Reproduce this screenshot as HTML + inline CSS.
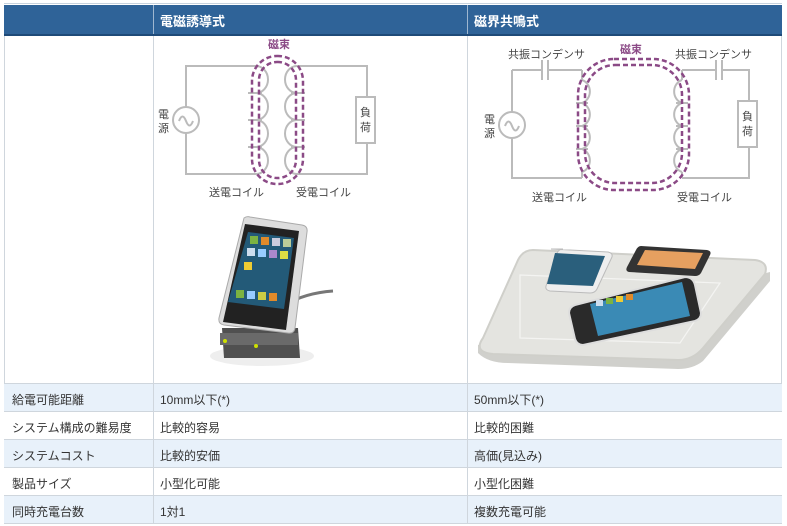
<!DOCTYPE html>
<html><head><meta charset="utf-8"><style>
body{margin:0;width:787px;height:526px;background:#fff;position:relative;overflow:hidden;font-family:"Liberation Sans","Noto Sans CJK JP",sans-serif;}
.a{position:absolute}
.row{position:absolute;left:4px;width:778px;height:27px;border-top:1px solid #cfd6dd;font-size:12px;color:#333}
.row span{position:absolute;top:7px}
</style></head><body>
<div class="a" style="left:4px;top:3px;width:778px;height:1px;background:#c8d3de"></div>
<div class="a" style="left:4px;top:5px;width:778px;height:29px;background:#2f6398;border-bottom:2px solid #1e4a78"></div>
<div class="a" style="left:153px;top:5px;width:1px;height:29px;background:#9fb7d0"></div>
<div class="a" style="left:467px;top:5px;width:1px;height:29px;background:#9fb7d0"></div>
<div class="a" style="left:160px;top:11px;color:#fff;font-weight:bold;font-size:13px">電磁誘導式</div>
<div class="a" style="left:474px;top:11px;color:#fff;font-weight:bold;font-size:13px">磁界共鳴式</div>
<div class="a" style="left:4px;top:36px;width:1px;height:486px;background:#cfd6dd"></div>
<div class="a" style="left:153px;top:36px;width:1px;height:486px;background:#cfd6dd"></div>
<div class="a" style="left:467px;top:36px;width:1px;height:486px;background:#cfd6dd"></div>
<div class="a" style="left:781px;top:36px;width:1px;height:486px;background:#cfd6dd"></div>
<svg class="a" style="left:0;top:0" width="787" height="383" font-family="Liberation Sans, Noto Sans CJK JP, sans-serif">
<g fill="none" stroke="#bbb" stroke-width="2">
<path d="M256 66h-70v108h70M297 66h70v108h-70"/>
<circle cx="186" cy="120" r="13" fill="#fff"/>
<path d="M179 121 q3.5 -9 7 0 q3.5 9 7 0"/>
<rect x="356" y="97" width="19" height="46" fill="#fff"/>
<path d="M256 66 a12 13.5 0 0 1 0 27 a12 13.5 0 0 1 0 27 a12 13.5 0 0 1 0 27 a12 13.5 0 0 1 0 27"/>
<path d="M297 66 a12 13.5 0 0 0 0 27 a12 13.5 0 0 0 0 27 a12 13.5 0 0 0 0 27 a12 13.5 0 0 0 0 27"/>
<path d="M248 93h14M248 120h14M248 147h14M291 93h14M291 120h14M291 147h14"/>
</g>
<g fill="none" stroke="#8b4a86" stroke-width="2.5" stroke-dasharray="5,3">
<rect x="252" y="56" width="51" height="128" rx="25"/>
<rect x="259" y="62" width="37" height="116" rx="18"/>
</g>
<text x="268" y="48" font-size="11" font-weight="bold" fill="#8b4a86">磁束</text>
<text x="158" y="118" font-size="11" fill="#444">電</text><text x="158" y="132" font-size="11" fill="#444">源</text>
<text x="360" y="116" font-size="11" fill="#444">負</text><text x="360" y="131" font-size="11" fill="#444">荷</text>
<text x="209" y="196" font-size="11" fill="#444">送電コイル</text>
<text x="296" y="196" font-size="11" fill="#444">受電コイル</text>

<g fill="none" stroke="#bbb" stroke-width="2">
<path d="M512 70h30M548 70h34M682 70h34M722 70h27v108h-67M512 70v108h70"/>
<path d="M542 60v20M548 60v20M716 60v20M722 60v20"/>
<circle cx="512" cy="125" r="13" fill="#fff"/>
<path d="M505 126 q3.5 -9 7 0 q3.5 9 7 0"/>
<rect x="738" y="101" width="19" height="46" fill="#fff"/>
<path d="M582 80 a11 12 0 0 1 0 23 a11 12 0 0 1 0 23 a11 12 0 0 1 0 23 a11 12 0 0 1 0 23 M582 80v-10M582 172v6"/>
<path d="M682 80 a11 12 0 0 0 0 23 a11 12 0 0 0 0 23 a11 12 0 0 0 0 23 a11 12 0 0 0 0 23 M682 80v-10M682 172v6"/>
<path d="M576 103h12M576 126h12M576 149h12M676 103h12M676 126h12M676 149h12"/>
</g>
<g fill="none" stroke="#8b4a86" stroke-width="2.5" stroke-dasharray="5,3">
<rect x="578" y="59" width="111" height="131" rx="36"/>
<rect x="585" y="65" width="97" height="118" rx="30"/>
</g>
<text x="620" y="53" font-size="11" font-weight="bold" fill="#8b4a86">磁束</text>
<text x="508" y="58" font-size="11" fill="#444">共振コンデンサ</text>
<text x="675" y="58" font-size="11" fill="#444">共振コンデンサ</text>
<text x="484" y="123" font-size="11" fill="#444">電</text><text x="484" y="137" font-size="11" fill="#444">源</text>
<text x="742" y="120" font-size="11" fill="#444">負</text><text x="742" y="135" font-size="11" fill="#444">荷</text>
<text x="532" y="201" font-size="11" fill="#444">送電コイル</text>
<text x="677" y="201" font-size="11" fill="#444">受電コイル</text>

<!-- left charger -->
<ellipse cx="262" cy="356" rx="52" ry="10" fill="#eee"/>
<path d="M285 305 q20 -12 48 -14" stroke="#777" stroke-width="3" fill="none"/>
<path d="M222 328 h76 l2 30 h-76z" fill="#505050"/>
<path d="M220 333 h78 v12 h-78z" fill="#6a6a6a"/>
<circle cx="225" cy="341" r="2" fill="#cde000"/><circle cx="256" cy="346" r="2" fill="#cde000"/>
<path d="M286 245 l12 5 l-4 82 l-12 -2z" fill="#444"/>
<path d="M244 218 q3 -2 6 -1 l52 8 q6 1 5 7 l-12 96 q-1 6 -7 5 l-64 -8 q-6 -1 -5 -7z" fill="#ddd" stroke="#aaa"/>
<path d="M245 224 l54 7 l-13 99 l-63 -8z" fill="#222"/>
<path d="M248 232 l46 6 l-10 71 l-56 -7z" fill="#235a78"/>
<rect x="250" y="236" width="8" height="8" fill="#7cb342"/><rect x="261" y="237" width="8" height="8" fill="#e08a2a"/><rect x="272" y="238" width="8" height="8" fill="#ccd"/><rect x="283" y="239" width="8" height="8" fill="#bc9"/>
<rect x="247" y="248" width="8" height="8" fill="#cde"/><rect x="258" y="249" width="8" height="8" fill="#9cf"/><rect x="269" y="250" width="8" height="8" fill="#a8c"/><rect x="280" y="251" width="8" height="8" fill="#dd4"/>
<rect x="244" y="262" width="8" height="8" fill="#ec3"/>
<rect x="236" y="290" width="8" height="8" fill="#7cb342"/><rect x="247" y="291" width="8" height="8" fill="#9cf"/><rect x="258" y="292" width="8" height="8" fill="#cc4"/><rect x="269" y="293" width="8" height="8" fill="#e08a2a"/>

<!-- right pad -->
<path d="M478 345 l0 8 q10 10 30 10 l170 6 q15 0 25 -8 l67 -80 v-9 z" fill="#d0d0cc"/>
<path d="M533 250 l222 10 q14 2 10 14 l-62 74 q-10 12 -25 12 l-185 -6 q-20 -2 -10 -16 l35 -78 q5 -10 15 -10z" fill="#e4e4e0" stroke="#cfcfca" stroke-width="2"/>
<path d="M520 275 l200 8 l-40 60 l-160 -5 z" fill="none" stroke="#f4f4f2" stroke-width="1.2"/>
<path d="M551 249 l57 3 q5 1 4 5 l-15 32 q-2 4 -7 4 l-40 -2 q-5 -1 -4 -5 l11 -33 q2 -4 6 -4z" fill="#eee" stroke="#bbb"/>
<path d="M555 253 l50 3 l-12 30 l-46 -2z" fill="#2a5f7c"/>
<path d="M641 246 l66 4 q5 1 3 5 l-9 18 q-2 3 -6 3 l-66 -4 q-4 -1 -2 -5 l9 -17 q2 -4 5 -4z" fill="#333"/>
<path d="M645 250 l58 3 l-8 16 l-58 -4z" fill="#e6a060"/>
<path d="M575 305 l110 -28 q8 0 10 8 l6 28 q0 6 -6 8 l-112 24 q-6 0 -8 -6 l-6 -26 q0 -6 6 -8z" fill="#2a2a2a" stroke="#ddd" stroke-width="2"/>
<path d="M590 304 l92 -22 l8 34 l-92 20z" fill="#3a8ab5"/>
<rect x="596" y="300" width="7" height="6" fill="#cde"/><rect x="606" y="298" width="7" height="6" fill="#7cb342"/><rect x="616" y="296" width="7" height="6" fill="#ec3"/><rect x="626" y="294" width="7" height="6" fill="#e08a2a"/>
</svg>
<div class="row" style="top:383px;background:#e8f1fa"><span style="left:8px">給電可能距離</span><span style="left:156px">10mm以下(*)</span><span style="left:470px">50mm以下(*)</span></div>
<div class="row" style="top:411px;background:#fff"><span style="left:8px">システム構成の難易度</span><span style="left:156px">比較的容易</span><span style="left:470px">比較的困難</span></div>
<div class="row" style="top:439px;background:#e8f1fa"><span style="left:8px">システムコスト</span><span style="left:156px">比較的安価</span><span style="left:470px">高価(見込み)</span></div>
<div class="row" style="top:467px;background:#fff"><span style="left:8px">製品サイズ</span><span style="left:156px">小型化可能</span><span style="left:470px">小型化困難</span></div>
<div class="row" style="top:495px;background:#e8f1fa;border-bottom:1px solid #cfd6dd"><span style="left:8px">同時充電台数</span><span style="left:156px">1対1</span><span style="left:470px">複数充電可能</span></div>
<div class="a" style="left:153px;top:383px;width:1px;height:140px;background:#cfd6dd"></div>
<div class="a" style="left:467px;top:383px;width:1px;height:140px;background:#cfd6dd"></div>
</body></html>
